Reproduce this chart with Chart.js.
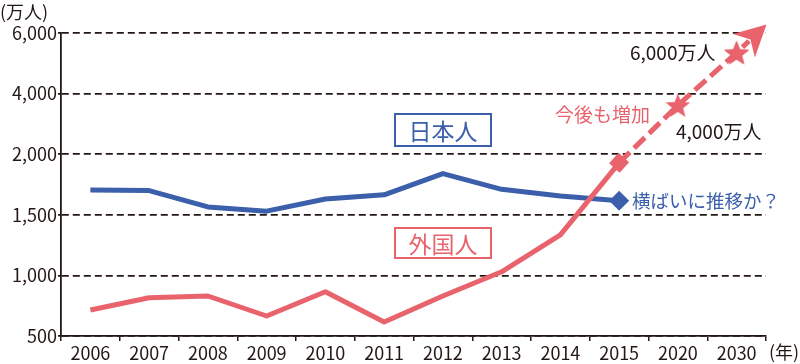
<!DOCTYPE html>
<html lang="ja">
<head>
<meta charset="utf-8">
<title>日本人と外国人の推移</title>
<script src="https://cdn.jsdelivr.net/npm/chart.js@4/dist/chart.umd.min.js"></script>
<style>
    html, body { margin: 0; padding: 0; background: #fff; }
    #moldura { width: 800px; height: 364px; position: relative; }
</style>
</head>
<body>
<div id="moldura"><canvas id="grafico"></canvas></div>
<script>
// dados (万人)
var anos = ['2006', '2007', '2008', '2009', '2010', '2011', '2012', '2013', '2014', '2015', '2020', '2030'];
var japoneses = [1705, 1700, 1565, 1530, 1630, 1665, 1840, 1710, 1655, 1615];
var estrangeiros = [715, 815, 830, 665, 865, 615, 830, 1030, 1335, 1929];
var projecao = [1929, 3617, 5353]; // 2015, 2020, 2030
var degrausY = [500, 1000, 1500, 2000, 4000, 6000];

var corAzul = '#3b5fab';
var corVermelha = '#e9636d';
var corTexto = '#231815';
var fonte = "'Noto Sans CJK JP', 'Noto Sans', sans-serif";

// eixo quebrado: cada degrau ocupa o mesmo espaço
function paraEixo(v) {
    if (v == null) return null;
    for (var i = 1; i < degrausY.length; i++) {
        if (v <= degrausY[i]) {
            return i - 1 + (v - degrausY[i - 1]) / (degrausY[i] - degrausY[i - 1]);
        }
    }
    var n = degrausY.length - 1;
    return n + (v - degrausY[n]) / (degrausY[n] - degrausY[n - 1]);
}

function completar(valores, inicio) {
    var saida = [];
    for (var i = 0; i < anos.length; i++) {
        var j = i - inicio;
        saida.push(j >= 0 && j < valores.length ? paraEixo(valores[j]) : null);
    }
    return saida;
}

function estrela(raio, interno, cor) {
    var c = document.createElement('canvas');
    c.width = c.height = Math.ceil(raio * 2) + 2;
    var ctx = c.getContext('2d');
    ctx.translate(c.width / 2, c.height / 2 + raio * 0.1);
    ctx.beginPath();
    for (var i = 0; i < 10; i++) {
        var a = -Math.PI / 2 + i * Math.PI / 5;
        var r = i % 2 ? interno : raio;
        ctx.lineTo(r * Math.cos(a), r * Math.sin(a));
    }
    ctx.closePath();
    ctx.fillStyle = cor;
    ctx.fill();
    return c;
}

var imgEstrela = estrela(13, 5.5, corVermelha);
var inicioProjecao = anos.length - projecao.length;

var seta = {
    id: 'seta',
    afterDatasetsDraw: function (chart) {
        var pts = chart.getDatasetMeta(0).data;
        var a = pts[inicioProjecao], b = pts[anos.length - 1];
        var dx = b.x - a.x, dy = b.y - a.y, len = Math.sqrt(dx * dx + dy * dy);
        var ux = dx / len, uy = dy / len, nx = -uy, ny = ux;
        var tipX = b.x + ux * 41, tipY = b.y + uy * 41;
        var ctx = chart.ctx;
        ctx.save();
        ctx.strokeStyle = corVermelha;
        ctx.lineWidth = 5;
        ctx.setLineDash([15, 6]);
        ctx.lineDashOffset = -8;
        ctx.beginPath();
        ctx.moveTo(b.x, b.y);
        ctx.lineTo(tipX - ux * 24, tipY - uy * 24);
        ctx.stroke();
        ctx.setLineDash([]);
        ctx.fillStyle = corVermelha;
        ctx.beginPath();
        ctx.moveTo(tipX, tipY);
        ctx.lineTo(tipX - ux * 31 + nx * 16, tipY - uy * 31 + ny * 16);
        ctx.lineTo(tipX - ux * 22, tipY - uy * 22);
        ctx.lineTo(tipX - ux * 31 - nx * 16, tipY - uy * 31 - ny * 16);
        ctx.closePath();
        ctx.fill();
        // redesenha a estrela de 2030 por cima do traço
        ctx.drawImage(imgEstrela, b.x - imgEstrela.width / 2, b.y - imgEstrela.height / 2);
        ctx.restore();
    }
};

var textos = {
    id: 'textos',
    afterDraw: function (chart) {
        var ctx = chart.ctx;
        ctx.save();
        ctx.textBaseline = 'middle';

        function escrever(txt, x, y, tam, cor, alinh) {
            ctx.font = tam + 'px ' + fonte;
            ctx.fillStyle = cor;
            ctx.textAlign = alinh || 'left';
            ctx.fillText(txt, x, y);
        }
        function caixa(txt, x, y, w, h, cor) {
            ctx.strokeStyle = cor;
            ctx.lineWidth = 2;
            ctx.strokeRect(x, y, w, h);
            escrever(txt, x + w / 2, y + h / 2 + 1, 23, cor, 'center');
        }

        escrever('(万人)', 0, 12, 18, corTexto);
        escrever('(年)', 769, 352, 18, corTexto);
        caixa('日本人', 395, 114, 96, 32, corAzul);
        caixa('外国人', 395, 228, 96, 30, corVermelha);
        escrever('今後も増加', 555, 115, 19, corVermelha);
        escrever('6,000万人', 630, 53, 19, corTexto);
        escrever('4,000万人', 676, 132, 19, corTexto);
        escrever('横ばいに推移か？', 632, 201, 18.5, corAzul);
        ctx.restore();
    }
};

new Chart(document.getElementById('grafico'), {
    type: 'line',
    data: {
        labels: anos,
        datasets: [{
            label: '外国人（予測）',
            data: completar(projecao, inicioProjecao),
            borderColor: corVermelha, backgroundColor: corVermelha,
            borderWidth: 5, borderDash: [15, 6],
            pointStyle: ['rect', 'rect', 'rect', 'rect', 'rect', 'rect', 'rect', 'rect', 'rect', 'rect', imgEstrela, imgEstrela],
            pointRotation: [0, 0, 0, 0, 0, 0, 0, 0, 0, 42, 0, 0],
            pointRadius: [0, 0, 0, 0, 0, 0, 0, 0, 0, 10, 13, 13],
            pointBorderWidth: 0,
            order: 0
        }, {
            label: '外国人',
            data: completar(estrangeiros, 0),
            borderColor: corVermelha, borderWidth: 5,
            pointRadius: 0, borderJoinStyle: 'round',
            order: 1
        }, {
            label: '日本人',
            data: completar(japoneses, 0),
            borderColor: corAzul, backgroundColor: corAzul, borderWidth: 5,
            borderJoinStyle: 'round',
            pointStyle: 'rectRot',
            pointRadius: [0, 0, 0, 0, 0, 0, 0, 0, 0, 10, 0, 0],
            pointBorderWidth: 0,
            order: 2
        }]
    },
    options: {
        responsive: true,
        maintainAspectRatio: false,
        animation: false,
        events: [],
        layout: { padding: { top: 33, right: 34, left: 0, bottom: 0 } },
        plugins: { legend: { display: false }, tooltip: { enabled: false } },
        scales: {
            x: {
                offset: true,
                afterFit: function (s) { s.height = 28; },
                grid: { offset: true, drawOnChartArea: false, tickLength: 5, color: corTexto, lineWidth: 1.5 },
                border: { color: corTexto, width: 1.8 },
                ticks: { color: corTexto, font: { family: fonte, size: 18 }, padding: 1, maxRotation: 0, autoSkip: false }
            },
            y: {
                min: 0, max: degrausY.length - 1,
                afterFit: function (s) { s.width = 61; },
                afterBuildTicks: function (s) {
                    s.ticks = degrausY.map(function (v, i) { return { value: i }; });
                },
                grid: { color: corTexto, lineWidth: 1.7, tickLength: 3, tickColor: corTexto },
                border: { color: corTexto, width: 1.8, dash: [7, 4] },
                ticks: {
                    color: corTexto, font: { family: fonte, size: 18 }, padding: 1,
                    callback: function (v) { return degrausY[v].toLocaleString('en-US'); }
                }
            }
        }
    },
    plugins: [seta, textos]
});
</script>
</body>
</html>
